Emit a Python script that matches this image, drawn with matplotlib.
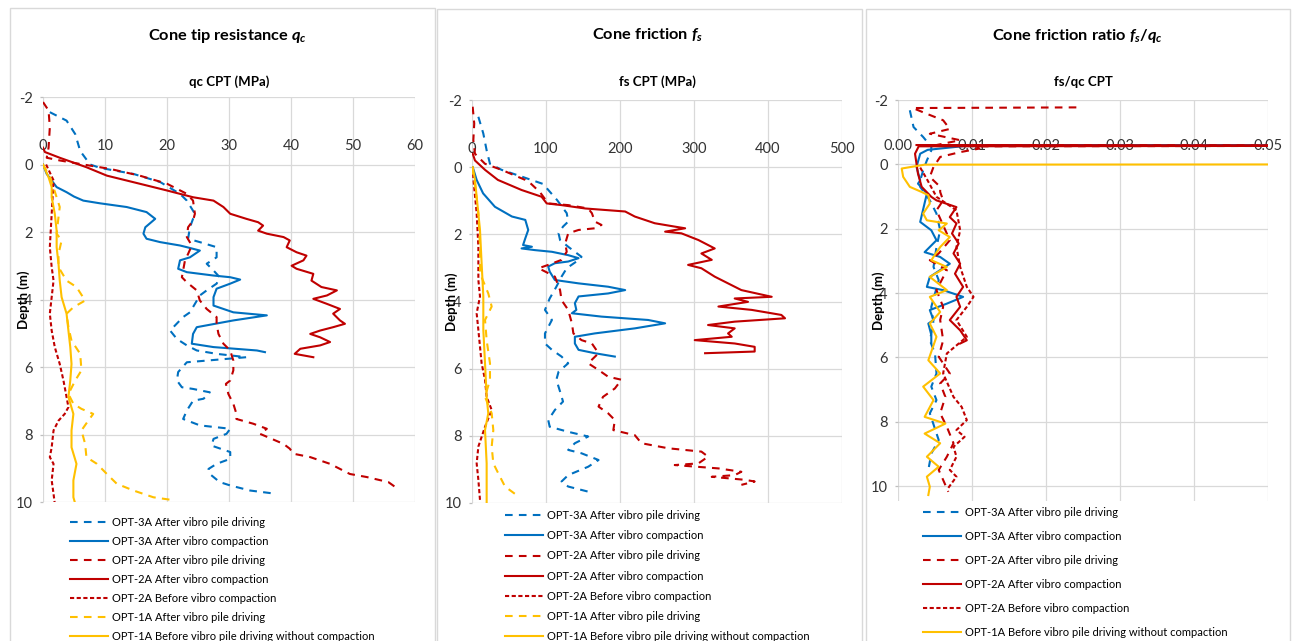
import numpy as np
import matplotlib.pyplot as plt
from matplotlib.patches import Rectangle

plt.rcParams['font.family'] = ['Lato', 'DejaVu Sans']
plt.rcParams['mathtext.fontset'] = 'custom'
plt.rcParams['mathtext.it'] = 'Lato:italic:bold'
plt.rcParams['mathtext.rm'] = 'Lato:bold'
plt.rcParams['axes.unicode_minus'] = False
plt.rcParams['lines.scale_dashes'] = False

W, H = 1293, 641

LABELS = ['OPT-3A After vibro pile driving',
          'OPT-3A After vibro compaction',
          'OPT-2A After vibro pile driving',
          'OPT-2A After vibro compaction',
          'OPT-2A Before vibro compaction',
          'OPT-1A After vibro pile driving',
          'OPT-1A Before vibro pile driving without compaction']

depth_ticks = [-2, 0, 2, 4, 6, 8, 10]
qc_ticks = [0, 10, 20, 30, 40, 50, 60]
fs_ticks = [0, 100, 200, 300, 400, 500]
ratio_ticks = [0.00, 0.01, 0.02, 0.03, 0.04, 0.05]

# ---- cone tip resistance qc (MPa) ----
qc_3A_pile_d = [-1.55, -1.3, -0.9, -0.4, 0.0, 0.1, 0.28, 0.52, 0.87, 1.07, 1.46, 1.86, 2.2, 2.3, 2.45,
                2.75, 2.94, 3.14, 3.34, 3.53, 3.73, 3.88, 4.13, 4.38, 4.52, 4.92, 5.17, 5.36, 5.51,
                5.61, 5.71, 5.86, 6.15, 6.4, 6.6, 6.65, 6.75, 6.94, 7.0, 7.29, 7.54, 7.73, 7.83,
                7.98, 8.13, 8.33, 8.52, 8.72, 8.87, 9.02, 9.17, 9.41, 9.51, 9.66, 9.76]
qc_3A_pile = [1.1, 3.8, 5.2, 6.0, 7.6, 9.2, 14.6, 18.9, 22.1, 23.2, 24.5, 23.7, 23.4, 25.3, 28,
              28, 26.4, 27.5, 28.5, 28, 26.4, 25.3, 24.5, 23.7, 22.6, 20.5, 21.6, 23.2, 24.8,
              28, 32.8, 23.2, 21.8, 21.6, 22.4, 24.2, 26.9, 25.9, 24.2, 23.2, 22.6, 25.3, 30.2,
              29.6, 27.5, 27.2, 30.2, 30.2, 28, 26.7, 26.9, 28.5, 30.2, 33.4, 37.7]

qc_3A_comp_d = [0, 0.28, 0.67, 0.82, 0.95, 1.07, 1.15, 1.26, 1.41, 1.61, 1.86, 2.05, 2.2, 2.3, 2.4,
                2.45, 2.55, 2.75, 2.84, 3.09, 3.19, 3.29, 3.34, 3.41, 3.53, 3.68, 3.93, 4.18, 4.38,
                4.47, 4.62, 4.82, 5.02, 5.31, 5.41, 5.51, 5.56]
qc_3A_comp = [0, 0.6, 2.2, 3.8, 5.0, 6.5, 9.2, 13.5, 16.7, 18.1, 16.5, 16.2, 16.7, 18.9, 22.1,
              23.2, 25.3, 23.7, 22.1, 21.8, 23.2, 27.5, 30.2, 31.8, 30.2, 28, 27.5, 27.5, 30.7,
              36.1, 30.7, 24.8, 24.2, 24.0, 27.5, 34.5, 35.8]

qc_2A_pile_d = [-1.85, -1.6, -1.1, -0.5, -0.2, -0.12, 0, 0.13, 0.33, 0.57, 0.87, 1.07, 1.46, 1.66,
                1.86, 2.15, 2.4, 2.65, 2.84, 3.34, 3.49, 3.73, 4.03, 4.28, 4.52, 4.72, 5.02, 5.31,
                5.51, 5.81, 6.1, 6.4, 6.5, 6.8, 7.09, 7.39, 7.54, 7.68, 7.83, 7.98, 8.28, 8.42,
                8.57, 8.67, 8.87, 9.17, 9.26, 9.41, 9.58]
qc_2A_pile = [0, 0.9, 1.1, 0.9, 0.6, 2.7, 6.5, 10.8, 15.6, 20, 23.2, 24.2, 24.5, 24.2,
              23.4, 23.2, 24, 23.4, 22.9, 22.4, 23.2, 24.8, 25.3, 26.4, 28, 28, 28.3, 29.1,
              30.2, 30.7, 30.7, 30.2, 29.5, 29.9, 30.7, 31.2, 31.2, 33.9, 36.1, 35, 38.8, 39.8,
              40.4, 43.1, 46.3, 49.5, 52.2, 55.7, 57.0]

qc_2A_comp_d = [-0.5, -0.37, -0.2, 0.08, 0.33, 0.57, 0.77, 0.97, 1.07, 1.26, 1.46, 1.61, 1.71, 1.81,
                1.96, 2.05, 2.15, 2.25, 2.45, 2.6, 2.7, 2.84, 3.0, 3.09, 3.24, 3.44, 3.63, 3.73,
                3.88, 3.98, 4.13, 4.28, 4.42, 4.62, 4.72, 4.82, 4.92, 5.02, 5.12, 5.26, 5.36, 5.46,
                5.61, 5.71]
qc_2A_comp = [0, 0.3, 2.7, 7, 10.3, 15.6, 20, 24.2, 27.5, 29.1, 30.2, 32.8, 34.7, 35.5,
              34.7, 36.1, 38.8, 39.8, 39.3, 40.9, 42.5, 42, 40.1, 40.9, 43.6, 43.3, 44.9, 47.4,
              45.8, 43.6, 45.8, 47.9, 46.8, 47.9, 48.7, 46.8, 44.7, 43.1, 44.7, 46.3, 44.7, 41.5,
              40.6, 43.6]

qc_2A_before_d = [0, 0.47, 1.46, 2.45, 3.04, 3.44, 3.93, 4.42, 4.92, 5.41, 5.91, 6.4, 6.89, 7.19,
                  7.39, 7.59, 7.88, 8.38, 8.67, 8.87, 9.36, 9.76, 10.05]
qc_2A_before = [0.5, 1.7, 1.4, 1.1, 1.4, 1.7, 1.4, 1.1, 1.4, 1.9, 2.7, 3.3, 3.8, 4.1,
                3.5, 2.5, 1.7, 1.4, 1.1, 1.7, 1.4, 1.7, 1.9]

qc_1A_pile_d = [0, 0.4, 0.97, 1.26, 1.56, 2.05, 2.25, 2.65, 3.04, 3.44, 3.63, 4.03, 4.23, 4.42,
                4.82, 5.22, 5.61, 6.1, 6.4, 6.8, 7.09, 7.24, 7.39, 7.59, 7.88, 8.28, 8.67, 8.87,
                9.17, 9.46, 9.66, 9.86, 9.94]
qc_1A_pile = [0, 1.2, 2.2, 2.7, 2.5, 2.2, 3, 2.5, 2.5, 3.8, 5.4, 6.8, 4.9, 3.8,
              4.1, 4.6, 6, 6.2, 5.2, 4.1, 4.9, 6.2, 8.1, 7.3, 6.2, 6.8, 7, 8.7,
              10.3, 11.9, 14.6, 17.8, 20.8]

qc_1A_before_d = [0, 0.38, 0.67, 0.97, 1.46, 1.96, 2.45, 2.94, 3.44, 3.93, 4.42, 4.92, 5.41,
                  5.91, 6.4, 6.89, 7.39, 7.88, 8.38, 8.87, 9.36, 9.86, 10.05]
qc_1A_before = [0, 0.9, 1.4, 1.4, 1.9, 2.2, 2.2, 2.5, 2.7, 3, 3.8, 4.1, 4.4,
                4.6, 4.4, 4.1, 4.9, 4.6, 4.6, 5.4, 4.9, 4.9, 5.2]

# ---- cone friction fs ----
fs_3A_pile_d = [-1.5, -1.0, -0.5, -0.1, 0.08, 0.28, 0.5, 0.98, 1.37, 1.62, 1.77, 1.97, 2.17, 2.37,
                2.52, 2.67, 2.81, 3.01, 3.26, 3.56, 3.91, 4.25, 4.55, 4.95, 5.25, 5.44, 5.64, 5.84,
                6.09, 6.33, 6.68, 6.98, 7.23, 7.53, 7.73, 7.88, 8.02, 8.22, 8.42, 8.52, 8.72, 8.92,
                9.17, 9.36, 9.51, 9.69]
fs_3A_pile = [8.6, 15.3, 19.8, 24.3, 40, 67, 96, 115, 128, 130, 123, 117, 119, 130,
              139, 148, 141, 128, 121, 114, 105, 98.6, 108, 98.6, 98.6, 108, 121, 130,
              117, 114, 119, 123, 112, 103, 105, 130, 157, 139, 130, 148, 171, 157,
              130, 121, 130, 162]

fs_3A_comp_d = [0, 0.38, 0.78, 1.18, 1.47, 1.57, 1.87, 2.12, 2.32, 2.37, 2.42, 2.47, 2.52, 2.62,
                2.71, 2.81, 2.86, 2.96, 3.11, 3.36, 3.46, 3.56, 3.66, 3.76, 3.85, 4.05, 4.25, 4.35,
                4.45, 4.55, 4.65, 4.8, 4.95, 5.05, 5.25, 5.44, 5.54, 5.64]
fs_3A_comp = [1, 6.3, 15, 31, 54, 72, 76, 72, 69, 81, 67, 85, 108, 130,
              144, 130, 112, 103, 105, 112, 144, 184, 207, 184, 144, 139, 141, 135,
              175, 238, 261, 220, 166, 139, 139, 144, 166, 193]

fs_2A_pile_d = [-1.8, -1.3, -0.8, -0.4, -0.1, 0.08, 0.38, 0.5, 0.75, 1.08, 1.13, 1.23, 1.37, 1.62,
                1.72, 1.82, 1.87, 1.97, 2.27, 2.52, 2.76, 2.91, 3.01, 3.11, 3.26, 3.66, 3.96, 4.25,
                4.65, 4.95, 5.15, 5.25, 5.54, 5.84, 6.04, 6.24, 6.33, 6.59, 6.84, 7.13, 7.33, 7.53,
                7.83, 7.98, 8.22, 8.37, 8.47, 8.62, 8.82, 8.87, 8.97, 9.07, 9.17, 9.22, 9.31, 9.36,
                9.46]
fs_2A_pile = [0.9, 3, 1.8, 4, 17.6, 40, 72, 80, 92, 103, 130, 157, 162, 166,
              175, 166, 144, 130, 126, 128, 121, 103, 90, 99, 112, 119, 121, 130,
              135, 137, 148, 162, 171, 157, 171, 184, 202, 193, 177, 171, 184, 193,
              191, 220, 229, 265, 310, 319, 306, 274, 333, 364, 355, 324, 369, 382,
              364]

fs_2A_comp_d = [-0.4, -0.2, 0.08, 0.38, 0.68, 0.88, 1.08, 1.13, 1.23, 1.32, 1.47, 1.67, 1.77, 1.82,
                1.92, 1.97, 2.17, 2.42, 2.57, 2.76, 2.91, 3.01, 3.26, 3.56, 3.66, 3.86, 3.91, 4.01,
                4.15, 4.25, 4.4, 4.5, 4.6, 4.7, 4.8, 4.95, 5.05, 5.15, 5.25, 5.35, 5.49, 5.54]
fs_2A_comp = [1, 4, 17.6, 35, 67, 94, 101, 121, 153, 207, 220, 247, 274, 288,
              261, 283, 306, 328, 310, 324, 292, 310, 328, 355, 364, 405, 355, 373,
              333, 378, 418, 423, 355, 319, 355, 346, 351, 301, 355, 382, 382, 315]

fs_2A_before_d = [0, 0.38, 1.37, 2.37, 3.36, 3.85, 4.35, 4.85, 5.84, 6.33, 6.84, 7.23, 7.73,
                  8.32, 8.82, 9.31, 9.91]
fs_2A_before = [1, 2, 6.3, 8.6, 8.6, 10.8, 6.3, 8.6, 13, 17.6, 19.8, 26.6, 17.6,
                8.6, 6.3, 8.6, 10.8]

fs_1A_pile_d = [0, 0.5, 1.37, 2.37, 3.16, 3.76, 4.15, 4.55, 5.15, 5.84, 6.33, 6.84, 7.33, 7.83,
                8.32, 8.82, 9.12, 9.51, 9.76]
fs_1A_pile = [0, 4, 8.6, 10.8, 10.8, 22, 26.6, 17.6, 19.8, 24.3, 24.3, 17.6, 26.6, 28.8,
              26.6, 28.8, 35.6, 44.6, 60]

fs_1A_before_d = [0, 0.38, 0.88, 1.87, 2.86, 3.85, 4.85, 5.84, 6.84, 7.33, 7.83, 8.82, 9.91, 10.05]
fs_1A_before = [1, 4, 6.3, 10.8, 13, 15.3, 15.3, 17.6, 19.8, 22, 17.6, 19.8, 19.8, 19.8]

# ---- friction ratio fs/qc ----
r_3A_pile_d = [-1.68, -1.16, -0.85, -0.6, -0.58, -0.57, -0.43, -0.12, 0.19, 0.5, 0.7, 1.12, 1.53,
               2.05, 2.57, 3.19, 3.6, 4.43, 4.95, 5.47, 5.88, 6.5, 6.91, 7.33, 7.74, 8.57, 8.99,
               9.5]
r_3A_pile = [0.0016, 0.0021, 0.0034, 0.0043, 0.08, 0.0045, 0.0045, 0.0039, 0.0034, 0.003, 0.003,
             0.0043, 0.0052, 0.0057, 0.0052, 0.0048, 0.0055, 0.0045, 0.0048, 0.0043, 0.005,
             0.0052, 0.0045, 0.0052, 0.0043, 0.0055, 0.0045, 0.0041]

r_3A_comp_d = [-0.6, -0.58, -0.57, -0.45, -0.33, 0.08, 0.5, 0.6, 0.91, 1.3, 1.79, 2.05, 2.36, 2.73,
               2.88, 3.09, 3.5, 3.81, 3.91, 4.12, 4.33, 4.53, 4.84, 4.95, 5.3, 5.55]
r_3A_comp = [0.003, 0.08, 0.009, 0.004, 0.003, 0.0025, 0.003, 0.0027, 0.0039, 0.0035, 0.003,
             0.0045, 0.0052, 0.0036, 0.0057, 0.007, 0.0043, 0.0039, 0.0061, 0.0088, 0.0066,
             0.0043, 0.0048, 0.0041, 0.0045, 0.0045]

r_2A_pile_d = [-1.77, -1.75, -1.57, -1.37, -1.1, -0.95, -0.75, -0.6, -0.58, -0.56, -0.49, -0.38,
               -0.23, 0.08, 0.39, 0.7, 0.86, 1.12, 1.43, 1.84, 2.36, 2.77, 2.98, 3.29, 3.91, 4.43,
               4.84, 5.47, 5.98, 6.5, 6.81, 7.23, 7.74, 8.16, 8.67, 9.09, 9.5, 9.81, 10.18]
r_2A_pile = [0.0241, 0.002, 0.0039, 0.0061, 0.007, 0.0043, 0.0084, 0.0052, 0.08, 0.0105, 0.011,
             0.0084, 0.0057, 0.0048, 0.0043, 0.0057, 0.0057, 0.0061, 0.0052, 0.006, 0.007, 0.0055,
             0.0043, 0.0066, 0.0052, 0.0061, 0.0057, 0.0061, 0.0055, 0.007, 0.0057, 0.0064,
             0.0057, 0.0066, 0.0075, 0.0066, 0.0055, 0.0061, 0.0068]

r_2A_comp_d = [-0.6, -0.58, -0.56, -0.33, 0.29, 0.7, 1.01, 1.12, 1.33, 1.64, 1.84, 2.15, 2.46, 2.77,
               3.09, 3.4, 3.81, 4.12, 4.43, 4.84, 5.16, 5.47, 5.57]
r_2A_comp = [0.0025, 0.08, 0.0028, 0.0023, 0.0027, 0.0032, 0.0045, 0.0052, 0.0079, 0.007, 0.0079,
             0.0073, 0.0082, 0.0075, 0.0084, 0.0077, 0.0088, 0.0079, 0.0084, 0.007, 0.0084,
             0.0093, 0.0084]

r_2A_before_d = [0.1, 0.5, 1.01, 1.43, 2.05, 2.57, 3.19, 3.81, 4.12, 4.43, 4.84, 5.36, 5.88, 6.5,
                 7.23, 7.54, 7.95, 8.26, 8.47, 8.78, 9.09, 9.5, 9.71, 10.12]
r_2A_before = [0.003, 0.004, 0.0052, 0.0079, 0.0084, 0.0079, 0.0084, 0.0093, 0.0102, 0.0093,
               0.0079, 0.0093, 0.0066, 0.0061, 0.0075, 0.0086, 0.0093, 0.0079, 0.009, 0.0075,
               0.0079, 0.007, 0.0079, 0.0066]

r_1A_before_d = [0.0, 0.01, 0.13, 0.39, 0.7, 0.86, 0.96, 1.22, 1.53, 1.74, 1.84, 2.05, 2.26, 2.57,
                 2.98, 3.19, 3.5, 3.91, 4.12, 4.59, 4.95, 5.36, 6.09, 6.5, 6.91, 7.33, 7.85, 8.06,
                 8.37, 8.67, 9.09, 9.4, 9.71, 10.02, 10.28]
r_1A_before = [0.08, 0.0036, 0.0005, 0.0007, 0.0016, 0.0032, 0.0041, 0.0043, 0.0034, 0.0039,
               0.0066, 0.0055, 0.007, 0.0057, 0.0045, 0.0066, 0.0043, 0.0066, 0.0043, 0.0057,
               0.0043, 0.0052, 0.0041, 0.0057, 0.0034, 0.0048, 0.0036, 0.0064, 0.0036, 0.0057,
               0.0039, 0.0055, 0.0039, 0.0043, 0.0041]

BLUE, RED, YELLOW = '#0070C0', '#C00000', '#FFC000'
LONG = (0, (5.5, 4.5))
SHORT = (0, (3.0, 1.8))
STYLE = {LABELS[0]: (BLUE, LONG), LABELS[1]: (BLUE, '-'),
         LABELS[2]: (RED, LONG), LABELS[3]: (RED, '-'),
         LABELS[4]: (RED, SHORT), LABELS[5]: (YELLOW, LONG),
         LABELS[6]: (YELLOW, '-')}


def fx(x):
    return x / W


def fy(y):
    return 1 - y / H


def draw_panel(fig, box, plot, series, xticks, xlabels, ylim, title, xtitle,
               title_x, ylabel_x, legend_xy, spacing):
    """Draw one Excel-like chart panel: frame, axes, curves and legend."""
    bx0, by0, bx1 = box
    fig.add_artist(Rectangle((fx(bx0), fy(H + 10)), fx(bx1 - bx0), fy(by0) - fy(H + 10),
                             transform=fig.transFigure, fill=False,
                             edgecolor='#D9D9D9', lw=1))
    left, top, right, bottom = plot
    ax = fig.add_axes([fx(left), fy(bottom), fx(right - left), fy(top) - fy(bottom)])

    handles = []
    for label, (d, v) in series:
        color, ls = STYLE[label]
        line, = ax.plot(v, d, color=color, ls=ls, lw=1.5, label=label)
        handles.append(line)

    ax.set_xlim(xticks[0], xticks[-1])
    ax.set_ylim(ylim)
    ax.set_yticks(depth_ticks, [str(t) for t in depth_ticks])
    ax.set_xticks(xticks, xlabels)

    # horizontal axis crosses at depth 0, labels sit above it
    ax.xaxis.set_ticks_position('top')
    ax.spines['top'].set_position(('data', 0))
    for s in ax.spines.values():
        s.set_visible(False)
    ax.grid(True, color='#D9D9D9', lw=0.9)
    ax.tick_params(axis='x', length=0, pad=8, labelsize=10.5, labelcolor='#333333')
    ax.tick_params(axis='y', length=2.5, pad=5, width=0.9, color='#BFBFBF',
                   labelsize=10.5, labelcolor='#333333')

    ax.set_ylabel('Depth (m)', fontsize=9.5, fontweight='bold', va='center')
    ax.yaxis.set_label_coords(ylabel_x, 0.5)

    fig.text(fx(title_x), fy(40), title, ha='center', va='baseline',
             fontsize=11.8, fontweight='bold')
    fig.text(fx((left + right) / 2), fy(86), xtitle, ha='center', va='baseline',
             fontsize=9.5, fontweight='bold')

    ax.legend(handles, [h.get_label() for h in handles], loc='upper left',
              bbox_to_anchor=(fx(legend_xy[0]), fy(legend_xy[1])),
              bbox_transform=fig.transFigure, frameon=False, fontsize=8,
              handlelength=3.4, handletextpad=0.4, labelspacing=spacing,
              borderpad=0, borderaxespad=0)
    return ax


fig = plt.figure(figsize=(W / 100, H / 100), dpi=100)

qc_series = [(LABELS[0], (qc_3A_pile_d, qc_3A_pile)),
             (LABELS[1], (qc_3A_comp_d, qc_3A_comp)),
             (LABELS[2], (qc_2A_pile_d, qc_2A_pile)),
             (LABELS[3], (qc_2A_comp_d, qc_2A_comp)),
             (LABELS[4], (qc_2A_before_d, qc_2A_before)),
             (LABELS[5], (qc_1A_pile_d, qc_1A_pile)),
             (LABELS[6], (qc_1A_before_d, qc_1A_before))]
draw_panel(fig, (10, 8, 435), (43, 97, 415, 502), qc_series,
           qc_ticks, [str(t) for t in qc_ticks], (10, -2),
           r'Cone tip resistance $q_c$', 'qc CPT (MPa)', 228, -0.051,
           (70, 517), 0.72)

fs_series = [(LABELS[0], (fs_3A_pile_d, fs_3A_pile)),
             (LABELS[1], (fs_3A_comp_d, fs_3A_comp)),
             (LABELS[2], (fs_2A_pile_d, fs_2A_pile)),
             (LABELS[3], (fs_2A_comp_d, fs_2A_comp)),
             (LABELS[4], (fs_2A_before_d, fs_2A_before)),
             (LABELS[5], (fs_1A_pile_d, fs_1A_pile)),
             (LABELS[6], (fs_1A_before_d, fs_1A_before))]
draw_panel(fig, (437, 9, 862), (472, 100, 842, 503), fs_series,
           fs_ticks, [str(t) for t in fs_ticks], (10, -2),
           r'Cone friction $f_s$', 'fs CPT (MPa)', 648, -0.055,
           (505, 510), 0.83)

r_series = [(LABELS[0], (r_3A_pile_d, r_3A_pile)),
            (LABELS[1], (r_3A_comp_d, r_3A_comp)),
            (LABELS[2], (r_2A_pile_d, r_2A_pile)),
            (LABELS[3], (r_2A_comp_d, r_2A_comp)),
            (LABELS[4], (r_2A_before_d, r_2A_before)),
            (LABELS[6], (r_1A_before_d, r_1A_before))]
draw_panel(fig, (866, 9, 1290), (898, 100, 1268, 500.5), r_series,
           ratio_ticks, ['%.2f' % t for t in ratio_ticks], (10.45, -2),
           r'Cone friction ratio $f_s/q_c$', 'fs/qc CPT', 1077, -0.051,
           (923, 507), 1.17)

fig.savefig('out.png', dpi=100)
